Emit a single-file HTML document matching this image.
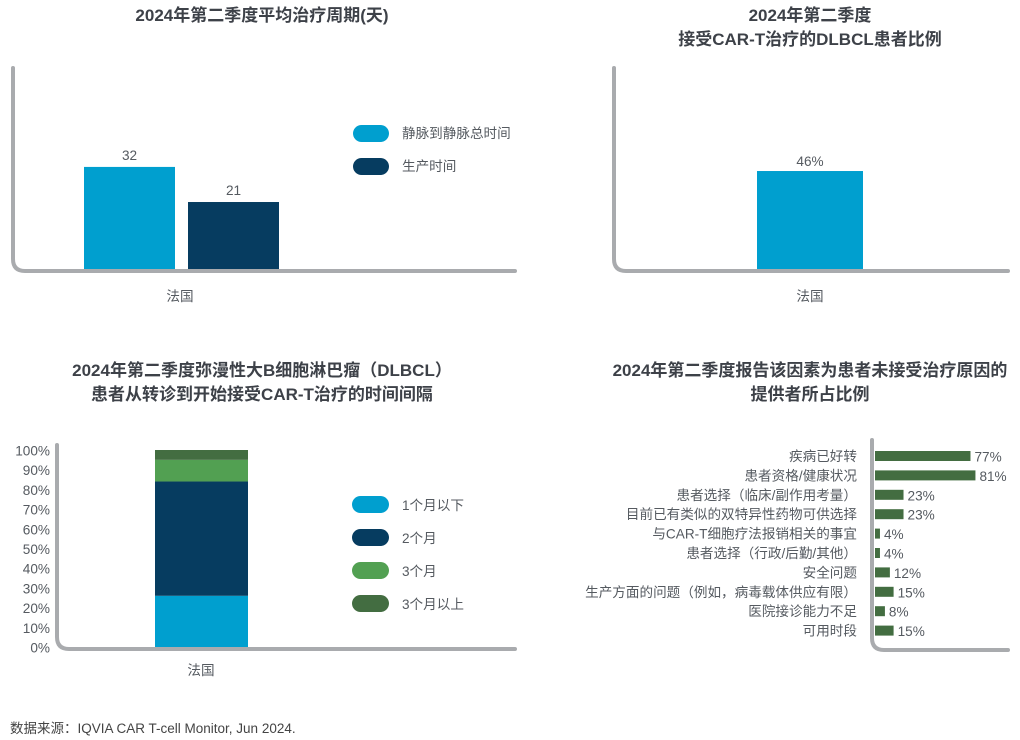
<!DOCTYPE html>
<html><head><meta charset="utf-8">
<style>
body{margin:0;background:#fff;width:1020px;height:740px;overflow:hidden}
svg{display:block;font-family:"Liberation Sans","Noto Sans CJK SC",sans-serif}
.t{font-size:17px;font-weight:bold;fill:#3d4148;text-anchor:middle}
.l{font-size:13.6px;fill:#555a60}
.ax{fill:none;stroke:#a9abae;stroke-width:4;stroke-linecap:round}
</style></head><body>
<svg id="s" width="1020" height="740">
<text class="t" x="262" y="21">2024年第二季度平均治疗周期(天)</text>
<text class="t" x="810" y="21">2024年第二季度</text>
<text class="t" x="810" y="45">接受CAR-T治疗的DLBCL患者比例</text>
<text class="t" x="262" y="376">2024年第二季度弥漫性大B细胞淋巴瘤（DLBCL）</text>
<text class="t" x="262" y="400">患者从转诊到开始接受CAR-T治疗的时间间隔</text>
<text class="t" x="810" y="376">2024年第二季度报告该因素为患者未接受治疗原因的</text>
<text class="t" x="810" y="400">提供者所占比例</text>
<path class="ax" d="M13 68 V259 Q13 271 25 271 H515"/>
<path class="ax" d="M614 68 V259 Q614 271 626 271 H1008"/>
<path class="ax" d="M57 445 V637 Q57 649 69 649 H515"/>
<path class="ax" d="M872 440 V638 Q872 650 884 650 H1008"/>
<text class="l" x="180" y="301" text-anchor="middle">法国</text>
<text class="l" x="810" y="301" text-anchor="middle">法国</text>
<text class="l" x="201" y="675" text-anchor="middle">法国</text>
<text x="10" y="733" style="font-size:13.5px;fill:#444">数据来源：IQVIA CAR T-cell Monitor, Jun 2024.</text>
</svg>
<script>
const c1Series=["静脉到静脉总时间","生产时间"];
const c1Values=[32,21];
const c2Values=[46];
const c3Series=["1个月以下","2个月","3个月","3个月以上"];
const c3Values=[26,58,11,5];
const c3Ticks=[0,10,20,30,40,50,60,70,80,90,100];
const c4Cats=["疾病已好转","患者资格/健康状况","患者选择（临床/副作用考量）","目前已有类似的双特异性药物可供选择","与CAR-T细胞疗法报销相关的事宜","患者选择（行政/后勤/其他）","安全问题","生产方面的问题（例如，病毒载体供应有限）","医院接诊能力不足","可用时段"];
const c4Values=[77,81,23,23,4,4,12,15,8,15];
const S=document.getElementById('s'),NS="http://www.w3.org/2000/svg";
function mk(t,a,txt){const e=document.createElementNS(NS,t);for(const k in a)e.setAttribute(k,a[k]);if(txt!=null)e.textContent=txt;S.appendChild(e);return e;}
const blue="#009fcf",navy="#063c60",green="#52a052",dgreen="#436d41";
const y1=v=>269-v*3.19;
const c1X=[84,188],c1C=[blue,navy];
c1Values.forEach((v,i)=>{
 const r=mk('rect',{x:c1X[i],y:y1(v),width:91,height:269-y1(v),fill:c1C[i]});
 
 
 const t=mk('text',{x:c1X[i]+45.5,y:y1(v)-7,'text-anchor':'middle',class:'l','font-size':'15.5'},v);
 
 
});
c1Series.forEach((s,i)=>{
 const r=mk('rect',{x:353,y:125+i*33,width:36,height:17,rx:8.5,fill:c1C[i]});
 
 
 const t=mk('text',{x:402,y:138+i*33,class:'l','font-size':'14'},s);
 
 
});
const y2=v=>269-v*2.13;
c2Values.forEach((v,i)=>{
 const r=mk('rect',{x:757,y:y2(v),width:106,height:269-y2(v),fill:blue});
 
 
 const t=mk('text',{x:810,y:y2(v)-5,'text-anchor':'middle',class:'l','font-size':'15'},v+'%');
 
 
});
const y3=v=>647-v*1.97;
c3Ticks.forEach(v=>{
 const t=mk('text',{x:50,y:y3(v)+5.5,'text-anchor':'end',class:'l','font-size':'15.5'},v+'%');
 
 
});
const c3C=[blue,navy,green,dgreen];let acc=0;
c3Values.forEach((v,i)=>{
 const r=mk('rect',{x:155,y:y3(acc+v),width:93,height:v*1.97,fill:c3C[i]});
 
 
 acc+=v;
 const sw=mk('rect',{x:352,y:496+i*33,width:37,height:17,rx:8.5,fill:c3C[i]});
 
 
 const t=mk('text',{x:402,y:510+i*33,class:'l','font-size':'14'},c3Series[i]);
 
 
});
const x4=v=>875+v*1.24;
c4Cats.forEach((c,i)=>{
 const yc=456+i*19.4;
 const t=mk('text',{x:857,y:yc+5,'text-anchor':'end',class:'l'},c);
 
 
 const r=mk('rect',{x:875,y:yc-5,width:x4(c4Values[i])-875,height:10,fill:dgreen});
 
 
 const v=mk('text',{x:x4(c4Values[i])+4,y:yc+5.5,class:'l','font-size':'14.5'},c4Values[i]+'%');
 
 
});
</script>
</body></html>
